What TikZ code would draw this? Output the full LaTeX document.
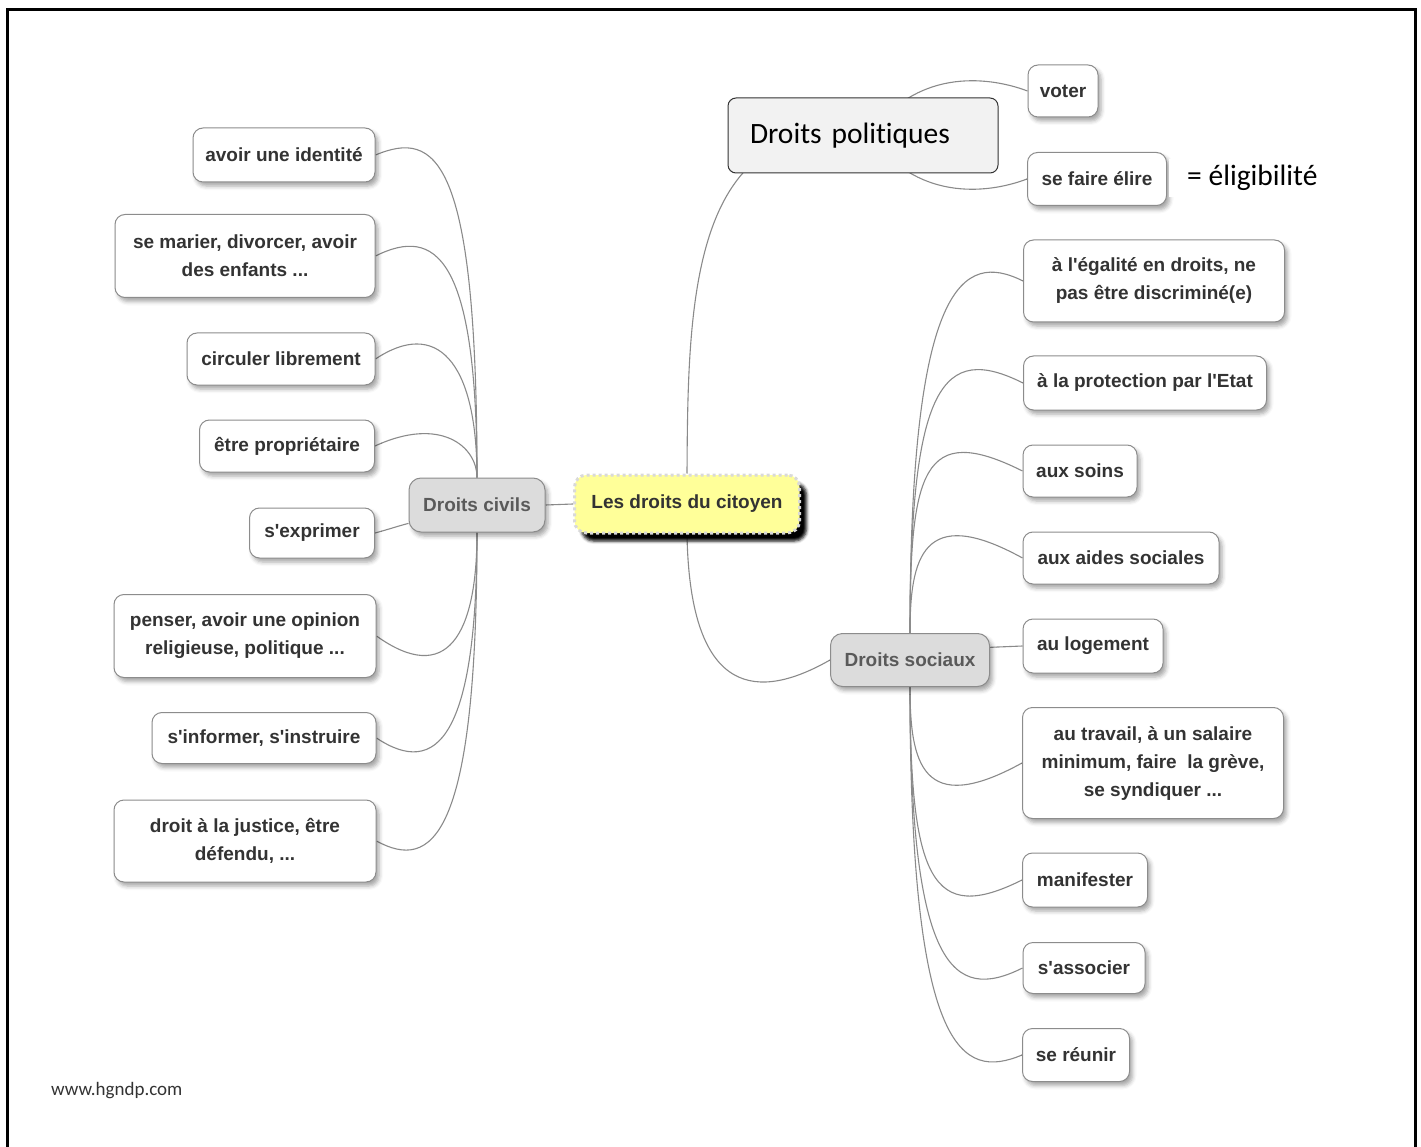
\documentclass[tikz,border=0pt]{standalone}
\usepackage{fontspec}
\setmainfont{Liberation Sans}
\newfontfamily\calibri{Carlito}[Ligatures=NoCommon]
\usetikzlibrary{calc,shadows,shadows.blur,backgrounds}

\definecolor{jaune}{HTML}{FFFF99}
\definecolor{grisnoeud}{HTML}{DCDCDC}
\definecolor{grisbord}{HTML}{8C8C8C}
\definecolor{grislien}{HTML}{8A8A8A}
\definecolor{texte}{HTML}{333333}
\definecolor{textegris}{HTML}{5A5A5A}
\definecolor{fondpol}{HTML}{F2F2F2}

\tikzset{
  feuille/.style={draw=grisbord, fill=white, rounded corners=10pt, line width=1pt,
    text=texte, align=center, inner sep=0pt, font=\bfseries\fontsize{19}{28}\selectfont,
    blur shadow={shadow xshift=3pt, shadow yshift=-4pt, shadow blur radius=4pt, shadow opacity=35}},
  theme/.style={draw=grisbord, fill=grisnoeud, rounded corners=12pt, line width=1pt,
    text=textegris, inner sep=0pt, font=\bfseries\fontsize{19}{28}\selectfont,
    blur shadow={shadow xshift=3pt, shadow yshift=-4pt, shadow blur radius=4pt, shadow opacity=35}},
  racine/.style={draw=black!15, fill=jaune, rounded corners=12pt, line width=3pt,
    dash pattern=on 3pt off 3pt, text=texte, inner sep=0pt,
    font=\bfseries\fontsize{19}{28}\selectfont,
    blur shadow={shadow xshift=7pt, shadow yshift=-8pt, shadow blur radius=3pt, shadow opacity=100}},
  politique/.style={draw=black!80, fill=fondpol, rounded corners=8pt, line width=1pt,
    font=\calibri\fontsize{29.5}{34}\selectfont, align=left, inner xsep=22pt,
    text width=226pt, minimum height=75pt},
  branche/.style={draw=grislien, line width=1.1pt}
}

\begin{document}
\begin{tikzpicture}[x=1pt,y=-1pt]
  \useasboundingbox (0,0) rectangle (1421,1147);
  \draw[line width=3pt] (7,1147) -- (7,10) -- (1415,10) -- (1415,1147);

  % centre et themes
  \node[racine, minimum width=225pt, minimum height=58pt] (cit) at (687,504) {Les droits du citoyen};
  \node[theme, minimum width=136pt, minimum height=54pt] (civ) at (477,505) {Droits civils};
  \node[theme, minimum width=159pt, minimum height=53pt] (soc) at (910,660) {Droits sociaux};
  \coordinate (dpolc) at (870,135);

  % droits civils
  \node[feuille, minimum width=182pt, minimum height=54pt] (id) at (284,155) {avoir une identité};
  \node[feuille, minimum width=260pt, minimum height=83pt] (mar) at (245,256) {se marier, divorcer, avoir\\des enfants ...};
  \node[feuille, minimum width=188pt, minimum height=52pt] (circ) at (281,359) {circuler librement};
  \node[feuille, minimum width=175pt, minimum height=52pt] (prop) at (287,446) {être propriétaire};
  \node[feuille, minimum width=125pt, minimum height=50pt] (expr) at (312,533) {s\textquotesingle exprimer};
  \node[feuille, minimum width=262pt, minimum height=83pt] (pens) at (245,636) {penser, avoir une opinion\\religieuse, politique ...};
  \node[feuille, minimum width=224pt, minimum height=51pt] (info) at (264,738) {s\textquotesingle informer, s\textquotesingle instruire};
  \node[feuille, minimum width=262pt, minimum height=82pt] (just) at (245,841) {droit à la justice, être\\défendu, ...};

  % droits sociaux
  \node[feuille, minimum width=261pt, minimum height=82pt] (egal) at (1154,281) {à l\textquotesingle égalité en droits, ne\\pas être discriminé(e)};
  \node[feuille, minimum width=243pt, minimum height=54pt] (prot) at (1145,383) {à la protection par l\textquotesingle Etat};
  \node[feuille, minimum width=114pt, minimum height=52pt] (soins) at (1080,471) {aux soins};
  \node[feuille, minimum width=196pt, minimum height=52pt] (aides) at (1121,558) {aux aides sociales};
  \node[feuille, minimum width=140pt, minimum height=54pt] (log) at (1093,646) {au logement};
  \node[feuille, minimum width=261pt, minimum height=111pt] (trav) at (1153,763) {au travail, à un salaire\\minimum, faire~ la grève,\\se syndiquer ...};
  \node[feuille, minimum width=125pt, minimum height=54pt] (man) at (1085,880) {manifester};
  \node[feuille, minimum width=122pt, minimum height=51pt] (assoc) at (1084,968) {s\textquotesingle associer};
  \node[feuille, minimum width=107pt, minimum height=53pt] (reun) at (1076,1055) {se réunir};

  % droits politiques
  \node[feuille, minimum width=70pt, minimum height=52pt] (voter) at (1063,91) {voter};
  \node[feuille, minimum width=139pt, minimum height=53pt] (elire) at (1097,179) {se faire élire};
  \node[politique] (dpol) at (863,135.5) {Droits politiques};
  \node[fill=white, anchor=west, inner xsep=18pt, inner ysep=6pt,
    font=\calibri\fontsize{29.5}{34}\selectfont] (elig) at (1169,178) {= éligibilité};

  \node[anchor=west, inner sep=0pt, font=\calibri\fontsize{19}{23}\selectfont, text=black!80] (site) at (51,1091) {www.hgndp.com};

  \begin{scope}[on background layer]
    \draw[branche] (cit.west) -- (civ.east);
    \draw[branche] (cit.south) .. controls (690,700) and (760,700) .. (soc.west);
    \draw[branche] (cit.north) .. controls (688,300) and (690,110) .. (dpolc);
    \draw[branche] (dpolc) .. controls (915,70) and (985,75) .. (voter.west);
    \draw[branche] (dpolc) .. controls (915,200) and (985,195) .. (elire.west);

    \draw[branche] (civ.north) .. controls (civ.north |- id.east) and ($(id.east)+(60,-25)$) .. (id.east);
    \draw[branche] (civ.north) .. controls (civ.north |- mar.east) and ($(mar.east)+(60,-30)$) .. (mar.east);
    \draw[branche] (civ.north) .. controls (civ.north |- circ.east) and ($(circ.east)+(60,-40)$) .. (circ.east);
    \draw[branche] (civ.north) .. controls (civ.north |- prop.east) and ($(prop.east)+(65,-30)$) .. (prop.east);
    \draw[branche] (civ.195) to[out=195,in=15] (expr.east);
    \draw[branche] (civ.south) .. controls (civ.south |- pens.east) and ($(pens.east)+(70,50)$) .. (pens.east);
    \draw[branche] (civ.south) .. controls (civ.south |- info.east) and ($(info.east)+(60,40)$) .. (info.east);
    \draw[branche] (civ.south) .. controls (civ.south |- just.east) and ($(just.east)+(55,30)$) .. (just.east);

    \draw[branche] (soc.north) .. controls (soc.north |- egal.west) and ($(egal.west)+(-60,-30)$) .. (egal.west);
    \draw[branche] (soc.north) .. controls (soc.north |- prot.west) and ($(prot.west)+(-80,-40)$) .. (prot.west);
    \draw[branche] (soc.north) .. controls (soc.north |- soins.west) and ($(soins.west)+(-100,-50)$) .. (soins.west);
    \draw[branche] (soc.north) .. controls (soc.north |- aides.west) and ($(aides.west)+(-100,-55)$) .. (aides.west);
    \draw[branche] (soc.9) -- (log.west);
    \draw[branche] (soc.south) .. controls (soc.south |- trav.west) and ($(trav.west)+(-100,55)$) .. (trav.west);
    \draw[branche] (soc.south) .. controls (soc.south |- man.west) and ($(man.west)+(-90,45)$) .. (man.west);
    \draw[branche] (soc.south) .. controls (soc.south |- assoc.west) and ($(assoc.west)+(-70,35)$) .. (assoc.west);
    \draw[branche] (soc.south) .. controls (soc.south |- reun.west) and ($(reun.west)+(-60,25)$) .. (reun.west);
  \end{scope}
\end{tikzpicture}
\end{document}
